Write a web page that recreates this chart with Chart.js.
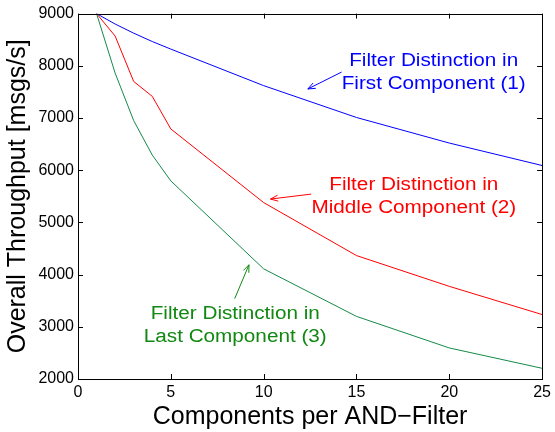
<!DOCTYPE html>
<html>
<head>
<meta charset="utf-8">
<title>Throughput vs components per AND-Filter</title>
<script src="https://cdn.jsdelivr.net/npm/chart.js@4/dist/chart.umd.min.js"></script>
<style>
  html, body { margin: 0; padding: 0; background: #fff; }
  canvas { display: block; }
</style>
</head>
<body>
<canvas id="thr" width="555" height="432"></canvas>
<script>
// ===== Dados =====
const components = [1, 2, 3, 4, 5, 10, 15, 20, 25];
const firstComp  = [9000, 8800, 8625, 8465, 8320, 7620, 7010, 6520, 6090];
const middleComp = [9000, 8570, 7700, 7415, 6790, 5380, 4365, 3775, 3235];
const lastComp   = [9000, 7860, 6950, 6290, 5795, 4110, 3200, 2595, 2205];

const xTicks = [0, 5, 10, 15, 20, 25];
const yTicks = [2000, 3000, 4000, 5000, 6000, 7000, 8000, 9000];

// anotações: texto (centro, linha de base da 1a linha) e seta (de -> ponta), em unidades do gráfico
const notes = [
  { lines: ['Filter Distinction in', 'First Component (1)'],  color: '#0000ff', at: [19.16, 7990], from: [14.20, 7880], to: [12.38, 7556] },
  { lines: ['Filter Distinction in', 'Middle Component (2)'], color: '#ff0000', at: [18.09, 5624], from: [12.56, 5542], to: [10.37, 5447] },
  { lines: ['Filter Distinction in', 'Last Component (3)'],   color: '#118811', at: [8.47, 3158],  from: [8.44, 3539],  to: [9.21, 4188] }
];

const FONT = "'Liberation Sans', Arial, Helvetica, sans-serif";

// caixa + ticks para dentro (estilo MATLAB) nos quatro lados
const boxTicks = {
  id: 'boxTicks',
  afterDraw(chart) {
    const { ctx, chartArea: a, scales: { x, y } } = chart;
    const len = 5;
    ctx.save();
    ctx.strokeStyle = '#000';
    ctx.lineWidth = 1;
    ctx.beginPath();
    xTicks.forEach(v => {
      const px = Math.round(x.getPixelForValue(v)) + 0.5;
      ctx.moveTo(px, a.bottom); ctx.lineTo(px, a.bottom - len);
      ctx.moveTo(px, a.top);    ctx.lineTo(px, a.top + len);
    });
    yTicks.forEach(v => {
      const py = Math.round(y.getPixelForValue(v)) + 0.5;
      ctx.moveTo(a.left, py);  ctx.lineTo(a.left + len, py);
      ctx.moveTo(a.right, py); ctx.lineTo(a.right - len, py);
    });
    ctx.stroke();
    ctx.strokeRect(Math.round(a.left) + 0.5, Math.round(a.top) + 0.5,
                   Math.round(a.right - a.left), Math.round(a.bottom - a.top));
    ctx.restore();
  }
};

const annot = {
  id: 'annot',
  afterDatasetsDraw(chart) {
    const { ctx, scales: { x, y } } = chart;
    ctx.save();
    notes.forEach(n => {
      ctx.fillStyle = n.color;
      ctx.strokeStyle = n.color;
      ctx.font = '18px ' + FONT;
      ctx.textAlign = 'center';
      ctx.textBaseline = 'alphabetic';
      const cx = x.getPixelForValue(n.at[0]);
      const by = y.getPixelForValue(n.at[1]);
      n.lines.forEach((t, i) => {
        ctx.save();
        ctx.translate(cx, by + i * 23);
        ctx.scale(1.15, 1); // o texto original é mais largo
        ctx.fillText(t, 0, 0);
        ctx.restore();
      });

      const x0 = x.getPixelForValue(n.from[0]), y0 = y.getPixelForValue(n.from[1]);
      const x1 = x.getPixelForValue(n.to[0]),   y1 = y.getPixelForValue(n.to[1]);
      const ang = Math.atan2(y1 - y0, x1 - x0);
      const hl = 8, ha = 0.38;
      ctx.lineWidth = 1;
      ctx.beginPath();
      ctx.moveTo(x0, y0); ctx.lineTo(x1, y1);
      ctx.moveTo(x1 - hl * Math.cos(ang - ha), y1 - hl * Math.sin(ang - ha));
      ctx.lineTo(x1, y1);
      ctx.lineTo(x1 - hl * Math.cos(ang + ha), y1 - hl * Math.sin(ang + ha));
      ctx.stroke();
    });
    ctx.restore();
  }
};

const mkSet = (label, data, color) => ({
  label,
  data: components.map((c, i) => ({ x: c, y: data[i] })),
  borderColor: color,
  borderWidth: 1,
  pointRadius: 0,
  tension: 0,
  fill: false
});

new Chart(document.getElementById('thr'), {
  type: 'line',
  data: {
    datasets: [
      mkSet('First Component (1)', firstComp, '#0000ff'),
      mkSet('Middle Component (2)', middleComp, '#ff0000'),
      mkSet('Last Component (3)', lastComp, '#158a48')
    ]
  },
  options: {
    responsive: false,
    animation: false,
    devicePixelRatio: 1,
    layout: { padding: { top: 12, right: 10, left: 0, bottom: 0 } },
    plugins: { legend: { display: false }, tooltip: { enabled: false } },
    scales: {
      x: {
        type: 'linear',
        min: 0, max: 25,
        afterBuildTicks: s => { s.ticks = xTicks.map(v => ({ value: v })); },
        afterFit: s => { s.height = 53; },
        grid: { display: false, drawTicks: false },
        border: { display: false },
        ticks: { padding: 4, color: '#000', maxRotation: 0, font: { family: FONT, size: 16 }, callback: v => String(v) },
        title: {
          display: true,
          text: 'Components per AND\u2212Filter',
          color: '#000',
          padding: { top: 6, bottom: 0 },
          font: { family: FONT, size: 25 }
        }
      },
      y: {
        type: 'linear',
        min: 2000, max: 9000,
        afterBuildTicks: s => { s.ticks = yTicks.map(v => ({ value: v })); },
        afterFit: s => { s.width = 78; },
        grid: { display: false, drawTicks: false },
        border: { display: false },
        ticks: { padding: 4, color: '#000', font: { family: FONT, size: 16 }, callback: v => String(v) },
        title: {
          display: true,
          text: 'Overall Throughput [msgs/s]',
          color: '#000',
          padding: { top: 3, bottom: 0 },
          font: { family: FONT, size: 25 }
        }
      }
    }
  },
  plugins: [boxTicks, annot]
});
</script>
</body>
</html>
